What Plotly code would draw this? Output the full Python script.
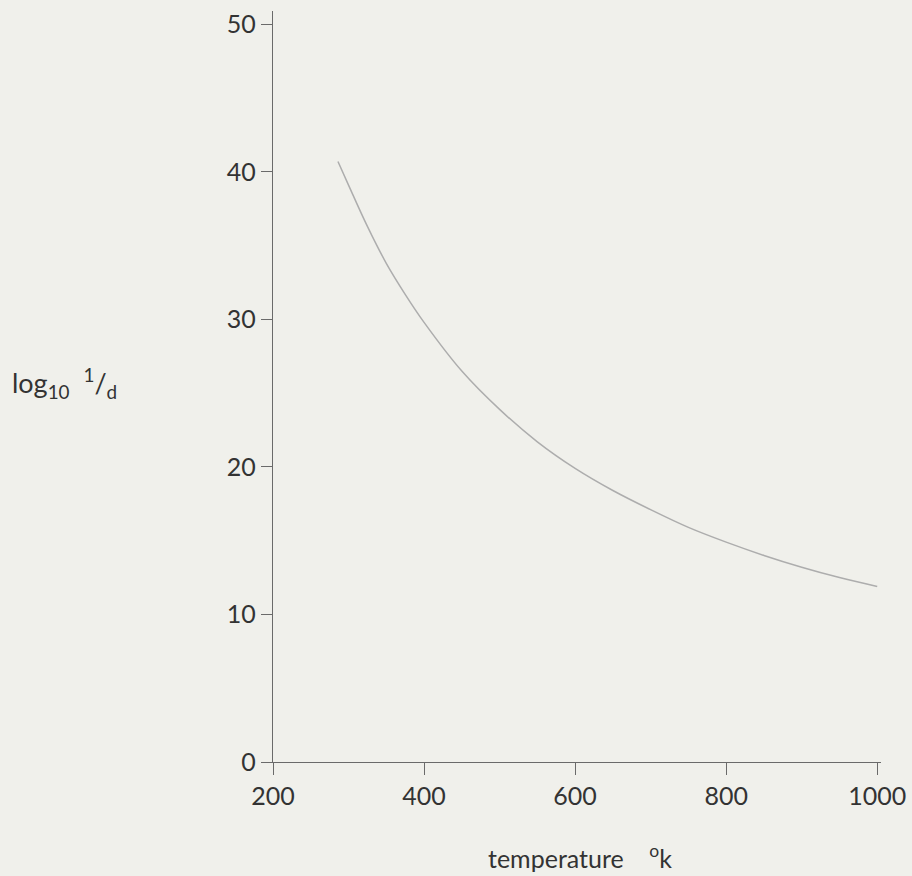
import plotly.graph_objects as go

temperature = [286, 300, 325, 350, 375, 400, 450, 500, 550, 600, 650, 700, 750, 800, 850, 900, 950, 1000]
log_inv_d = [40.7, 39.1, 36.3, 33.8, 31.7, 29.8, 26.5, 23.9, 21.7, 19.9, 18.4, 17.1, 15.9, 14.9, 14.0, 13.2, 12.5, 11.9]

x_ticks = [200, 400, 600, 800, 1000]
y_ticks = [0, 10, 20, 30, 40, 50]

bg = "#f0f0eb"
axis_col = "#6a6a6a"
text_col = "#333333"
font_family = "Lato, Open Sans, sans-serif"

fig = go.Figure()
fig.add_trace(go.Scatter(
    x=temperature, y=log_inv_d, mode="lines",
    line=dict(color="#adadad", width=1.5, shape="spline", smoothing=1.0),
    hoverinfo="skip", showlegend=False,
))

fig.update_layout(
    width=912, height=876,
    paper_bgcolor=bg, plot_bgcolor=bg,
    margin=dict(l=273, r=31, t=11, b=114),
    font=dict(family=font_family, color=text_col, size=22),
    xaxis=dict(
        range=[200, 1005], tickvals=x_ticks, ticktext=[str(v) for v in x_ticks],
        showgrid=False, zeroline=False, showline=True, linecolor=axis_col, linewidth=1.3,
        ticks="outside", ticklen=12, tickwidth=1.3, tickcolor=axis_col, automargin=False,
        tickfont=dict(size=25, color=text_col, family=font_family),
    ),
    yaxis=dict(
        range=[0, 50.9], tickvals=y_ticks, ticktext=[str(v) for v in y_ticks],
        showgrid=False, zeroline=False, showline=True, linecolor=axis_col, linewidth=1.3,
        ticks="outside", ticklen=11, tickwidth=1.3, tickcolor=axis_col, automargin=False,
        tickfont=dict(size=25, color=text_col, family=font_family),
    ),
    annotations=[
        dict(text="temperature    <sup>o</sup>k", xref="paper", yref="paper",
             x=(580 - 273) / 608, y=-(857 - 762) / 751, xanchor="center", yanchor="middle",
             showarrow=False, font=dict(size=25, color=text_col, family=font_family)),
        dict(text="log<sub>10</sub>  <sup>1</sup>/<sub>d</sub>", xref="paper", yref="paper",
             x=-(273 - 10) / 608, y=(762 - 383) / 751, xanchor="left", yanchor="middle",
             showarrow=False, font=dict(size=27, color=text_col, family=font_family)),
    ],
)

fig.write_html(
    "out.html",
    config={"displayModeBar": False},
    post_script="document.body.style.margin='0px';document.body.style.background='#f0f0eb';document.body.style.overflow='hidden';",
)
